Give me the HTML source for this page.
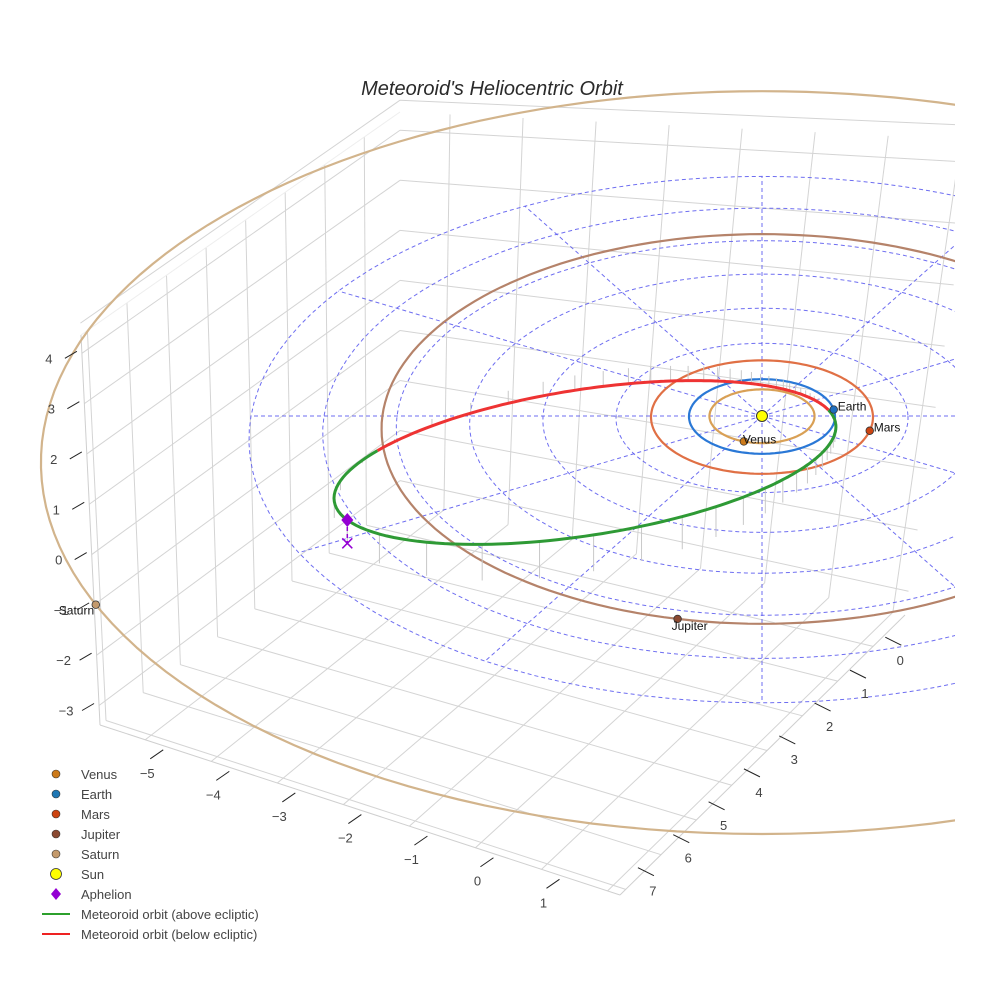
<!DOCTYPE html>
<html><head><meta charset="utf-8"><style>
body{margin:0;background:#fff;}
svg{display:block;font-family:"Liberation Sans",sans-serif;}
</style></head><body>
<svg id="chart" width="984" height="984" viewBox="0 0 984 984">
<defs><clipPath id="plotclip"><rect x="0" y="0" width="955" height="984"/></clipPath></defs>
<g clip-path="url(#plotclip)">
<g id="box"></g>
<g id="grid"></g>
<g id="orbits"></g>
<g id="meteor"></g>
<g id="planets"></g>
<g id="ticks"></g>
</g>
<text x="492" y="95" text-anchor="middle" font-size="20" font-style="italic" fill="#2a2a2a">Meteoroid's Heliocentric Orbit</text>
<g id="legend"></g>
</svg>
<script>
// ---- data ----
const planetNames = ["Venus","Earth","Mars","Jupiter","Saturn"];
const planetA = [0.72,1.0,1.52,5.2,9.8];
const planetAngle = [110,-10,15,102,151];
const planetColor = ["#cc7a1a","#1f6fbf","#cc4411","#8b4a32","#c49a6c"];
const orbitColor = ["#d9a055","#2a78d6","#e07045","#b5836a","#d2b48c"];
const gridRadii = [2,3,4,5,6,7];
const gridSpokes = [0,30,60,90,120,150,180,210,240,270,300,330];
const meteorQ = [0.9];      // perihelion distance (AU)
const meteorQa = [6.35];    // aphelion distance (AU)
const meteorPeriAngle = [-31];
const meteorIncl = [12.6];
const meteorNode = [170];
const xTicks = [-5,-4,-3,-2,-1,0,1];
const yTicks = [0,1,2,3,4,5,6,7];
const zTicks = [-3,-2,-1,0,1,2,3,4];

const NS="http://www.w3.org/2000/svg";
function mk(tag,attrs,parent){const e=document.createElementNS(NS,tag);for(const k in attrs)e.setAttribute(k,attrs[k]);parent.appendChild(e);return e;}
function proj(X,Y,Z){const d=1-0.0128*Y;return [762+73*X/d,416+37.3*Y/d-45*Z/d];}
const rad=Math.PI/180;

// ---- axis box (static geometry) ----
const box=document.getElementById('box');
const L=[100,725],F=[620,895],R=[905,615],B=[400,500],Lt=[81,335],Bt=[400,112],Rt=[975,140];
function lerp(a,b,t){return [a[0]+(b[0]-a[0])*t,a[1]+(b[1]-a[1])*t];}
function bil(p00,p10,p01,p11,u,v){const a=lerp(p00,p10,u),b=lerp(p01,p11,u);return lerp(a,b,v);}
function gl(a,b,c){const l=mk('line',{x1:a[0],y1:a[1],x2:b[0],y2:b[1],stroke:c||'#d4d4d4','stroke-width':1},box);
}
const xt=v=>0.087+(v+5)*0.127, yt=v=>0.98-v*0.124, zt=v=>0.05+(v+3)*0.129;
xTicks.concat([-6,2]).forEach(v=>{const u=xt(v);if(u<0||u>1)return;gl(bil(L,F,B,R,u,0),bil(L,F,B,R,u,1));});
yTicks.concat([-1]).forEach(v=>{const s=yt(v);if(s<0||s>1)return;gl(bil(L,F,B,R,0,1-s),bil(L,F,B,R,1,1-s));});
yTicks.forEach(v=>{const s=1-yt(v);const b=lerp(L,B,s),t=lerp(Lt,Bt,s);gl(b,t);});
zTicks.concat([4.6]).forEach(v=>{const t=zt(v);gl(lerp(L,Lt,t),lerp(B,Bt,t));});
xTicks.concat([2]).forEach(v=>{const u=xt(v);const b=lerp(B,R,u),t=lerp(Bt,Rt,u);gl(b,t);});
zTicks.concat([4.6]).forEach(v=>{const t=zt(v);gl(lerp(B,Bt,t),lerp(R,Rt,t));});
gl(L,F,'#cfcfcf');gl(F,R,'#cfcfcf');gl(L,Lt,'#cfcfcf');gl(Lt,Bt,'#eee');

// ---- ticks ----
const tk=document.getElementById('ticks');
function tlabel(x,y,s,name){const t=mk('text',{x:x,y:y,'font-size':13,fill:'#444','text-anchor':'middle'},tk);t.textContent=s;
}
function tmark(p,dx,dy){const l=mk('line',{x1:p[0],y1:p[1],x2:p[0]+dx,y2:p[1]+dy,stroke:'#222','stroke-width':1},tk);
}
const fmt=v=>v<0?'\u2212'+(-v):String(v);
xTicks.forEach(v=>{const p=lerp(L,F,xt(v));tmark([p[0]+18,p[1]+10],-13,9);tlabel(p[0]+2,p[1]+38,fmt(v),'x-tick-label');});
yTicks.forEach(v=>{const p=lerp(F,R,yt(v));const oy=(7-v)*1.8;tmark([p[0]-14,p[1]+4+oy],16,8);tlabel(p[0]+1,p[1]+32+oy,fmt(v),'y-tick-label');});
zTicks.forEach(v=>{const p=lerp(L,Lt,zt(v));tmark([p[0]-5,p[1]-2],-12,7);tlabel(p[0]-33,p[1]+10,fmt(v),'z-tick-label');});

// ---- ecliptic grid ----
const grid=document.getElementById('grid');
gridRadii.forEach(r=>{let d='';for(let a=0;a<=360;a+=3){const p=proj(r*Math.cos(a*rad),r*Math.sin(a*rad),0);d+=(a?'L':'M')+p[0].toFixed(1)+','+p[1].toFixed(1);}
const e=mk('path',{d:d,fill:'none',stroke:'#5555ee','stroke-width':1,'stroke-dasharray':'4,3',opacity:0.85},grid);
});
gridSpokes.forEach(a=>{const p0=proj(0,0,0),p1=proj(7*Math.cos(a*rad),7*Math.sin(a*rad),0);
const e=mk('line',{x1:p0[0],y1:p0[1],x2:p1[0],y2:p1[1],stroke:'#5555ee','stroke-width':1,'stroke-dasharray':'4,3',opacity:0.85},grid);
});

// ---- planet orbits ----
const orb=document.getElementById('orbits');
planetA.forEach((r,i)=>{let d='';for(let a=0;a<=360;a+=2){const p=proj(r*Math.cos(a*rad),r*Math.sin(a*rad),0);d+=(a?'L':'M')+p[0].toFixed(1)+','+p[1].toFixed(1);}
const e=mk('path',{d:d,fill:'none',stroke:orbitColor[i],'stroke-width':2.2},orb);
});

// ---- meteoroid orbit ----
const met=document.getElementById('meteor');
const q=meteorQ[0],Qa=meteorQa[0],a=(q+Qa)/2,e=(Qa-q)/(Qa+q),p=a*(1-e*e),si=Math.sin(meteorIncl[0]*rad);
function mpt(nu){const r=p/(1+e*Math.cos(nu*rad));const th=meteorPeriAngle[0]-nu;const X=r*Math.cos(th*rad),Y=r*Math.sin(th*rad);
const Z=r*si*Math.sin((meteorNode[0]-360-th)*rad);return [X,Y,Z];}
let segs=[],cur=null;
for(let nu=-180;nu<=180;nu+=1){const P=mpt(nu);const up=P[2]>=0;const s=proj(P[0],P[1],P[2]);
if(!cur||cur.up!==up){if(cur)cur.pts.push(s);cur={up:up,pts:[s]};segs.push(cur);}else cur.pts.push(s);}
for(let nu=-180;nu<=180;nu+=6){const P=mpt(nu);const s=proj(P[0],P[1],P[2]),g=proj(P[0],P[1],0);
const l=mk('line',{x1:s[0],y1:s[1],x2:g[0],y2:g[1],stroke:'#c8c8c8','stroke-width':1},met);
}
segs.forEach(sg=>{const d=sg.pts.map((s,i)=>(i?'L':'M')+s[0].toFixed(1)+','+s[1].toFixed(1)).join('');
const el=mk('path',{d:d,fill:'none',stroke:sg.up?'#2e9a35':'#ee3333','stroke-width':3},met);
});
const AP=mpt(180);const aps=proj(AP[0],AP[1],AP[2]),apg=proj(AP[0],AP[1],0);
const dl=mk('line',{x1:aps[0],y1:aps[1],x2:apg[0],y2:apg[1],stroke:'#9400d3','stroke-width':1.5,'stroke-dasharray':'4,3'},met);

const dm=mk('path',{d:`M${aps[0]},${aps[1]-7}L${aps[0]+6},${aps[1]}L${aps[0]},${aps[1]+7}L${aps[0]-6},${aps[1]}Z`,fill:'#9400d3'},met);

const xm=mk('path',{d:`M${apg[0]-5},${apg[1]-5}L${apg[0]+5},${apg[1]+5}M${apg[0]+5},${apg[1]-5}L${apg[0]-5},${apg[1]+5}`,stroke:'#9400d3','stroke-width':1.5},met);


// ---- planets & sun ----
const pl=document.getElementById('planets');
const sp=proj(0,0,0);
const sun=mk('circle',{cx:sp[0],cy:sp[1],r:5.5,fill:'#ffff00',stroke:'#333','stroke-width':1},pl);

planetA.forEach((r,i)=>{const s=proj(r*Math.cos(planetAngle[i]*rad),r*Math.sin(planetAngle[i]*rad),0);
const c=mk('circle',{cx:s[0],cy:s[1],r:3.8,fill:planetColor[i],stroke:'#333','stroke-width':0.8},pl);

let tx=s[0]+4,ty=s[1]+1;
if(i===0){tx=s[0]-1;ty=s[1]+2;}if(i===3){tx=s[0]-6;ty=s[1]+11;}if(i===4){tx=s[0]-37;ty=s[1]+10;}
const t=mk('text',{x:tx,y:ty,'font-size':12,fill:'#111'},pl);t.textContent=planetNames[i];
});

// ---- legend ----
const lg=document.getElementById('legend');
const items=[["Venus","dot","#cc7a1a"],["Earth","dot","#1f77b4"],["Mars","dot","#cc4411"],["Jupiter","dot","#8b4a32"],["Saturn","dot","#c49a6c"],["Sun","sun","#ffff00"],["Aphelion","dia","#9400d3"],["Meteoroid orbit (above ecliptic)","line","#2ca02c"],["Meteoroid orbit (below ecliptic)","line","#ee2222"]];
items.forEach((it,i)=>{const y=774+i*20;const g=mk('g',{},lg);
if(it[1]==='dot')mk('circle',{cx:56,cy:y,r:4,fill:it[2],stroke:'#333','stroke-width':0.6},g);
if(it[1]==='sun')mk('circle',{cx:56,cy:y,r:5.5,fill:it[2],stroke:'#333','stroke-width':0.8},g);
if(it[1]==='dia')mk('path',{d:`M56,${y-6}L61,${y}L56,${y+6}L51,${y}Z`,fill:it[2]},g);
if(it[1]==='line')mk('line',{x1:42,y1:y,x2:70,y2:y,stroke:it[2],'stroke-width':2},g);
const t=mk('text',{x:81,y:y+5,'font-size':13,fill:'#444'},g);t.textContent=it[0];});
</script>
</body></html>
